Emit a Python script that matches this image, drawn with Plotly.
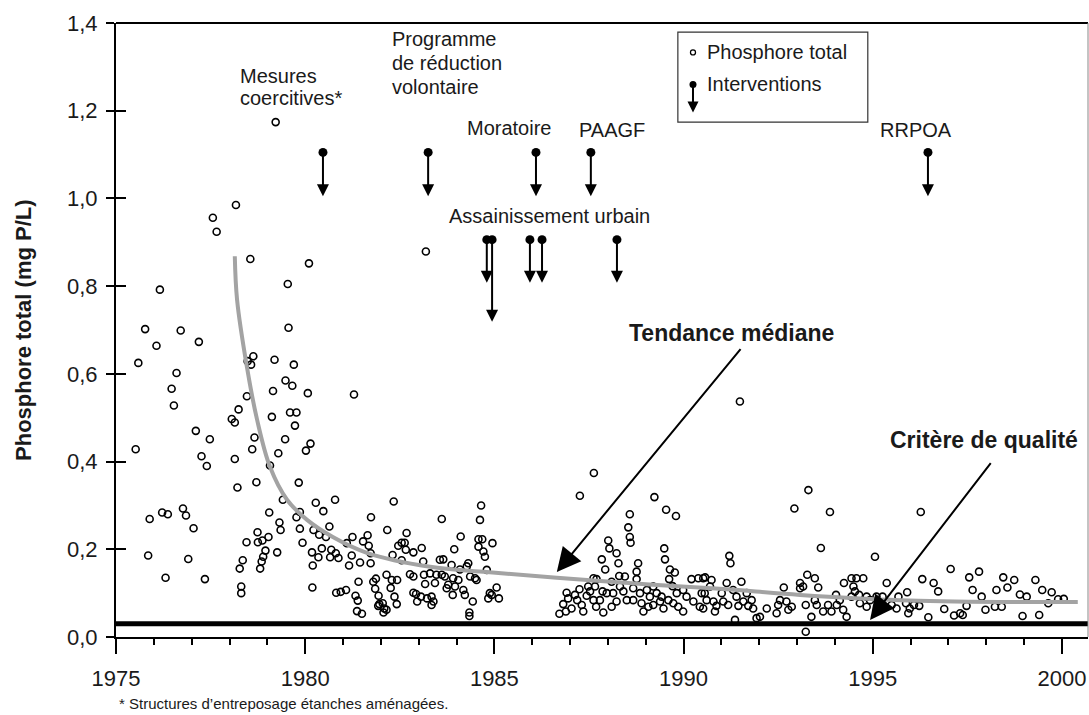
import plotly.graph_objects as go

# ---------------- data ----------------
yr_1 = [1975.77,1976.71,1976.07,1977.19,1975.59,1976.60,1976.47,1976.53,1975.52,1977.11,1977.48,1977.26,1977.40,
        1975.89,1976.22,1976.37,1976.77,1976.85,1977.05,1975.85,1976.91,1976.31,1977.35,1976.16,1977.56,1977.66]
tp_1 = [0.702,0.699,0.664,0.673,0.625,0.602,0.566,0.528,0.428,0.470,0.451,0.412,0.390,
        0.269,0.284,0.280,0.293,0.277,0.248,0.186,0.178,0.135,0.132,0.792,0.956,0.924]

yr_2 = [1979.22,1978.17,1978.55,1980.10,1979.54,1983.19,1979.56,1978.48,1978.63,1978.57,1979.19,1979.70,1979.48,
        1979.66,1979.15,1980.07,1978.46,1978.24,1978.06,1978.14,1979.12,1979.60,1979.77,1979.73,1978.66,1979.47,
        1978.60,1980.14,1980.02,1979.29,1978.14,1979.07,1978.71,1978.21,1979.83,1979.41,1980.28,1980.79,1981.29,
        1982.34,1979.05,1979.86,1979.77,1980.48,1979.32,1979.35,1979.86,1980.64,1980.22,1980.37,1980.55,1978.74,
        1978.75,1978.87,1979.03,1978.45,1978.95,1979.26,1978.89,1978.85,1978.81,1978.35,1978.27,1978.31,1978.31,
        1979.93,1980.18,1980.35,1980.44,1980.69,1980.66,1980.81,1980.88,1980.20,1980.19,1981.10,1981.23,1981.16,
        1981.45,1981.73,1981.25,1981.53,1981.65,1981.68,1981.73,1981.74,1982.17,1981.41,1980.82,1980.94,1981.08,
        1981.33,1981.39,1981.37,1981.50,1981.80,1981.87,1981.85,1981.94,1981.96,1981.93,1982.05,1982.09,1982.07,
        1982.15,1982.15,1982.29,1982.43,1982.26,1982.36,1982.42,1982.31,1982.46,1982.55,1982.63,1982.68,1982.66,
        1982.86,1983.08,1982.55,1982.77,1982.86,1983.14,1983.17,1983.12,1982.86,1982.93,1983.06,1982.96,1983.22,
        1983.30]
tp_2 = [1.174,0.985,0.862,0.852,0.805,0.879,0.705,0.629,0.640,0.621,0.632,0.621,0.585,
        0.573,0.561,0.556,0.549,0.519,0.497,0.489,0.502,0.512,0.512,0.482,0.455,0.451,
        0.428,0.441,0.425,0.419,0.406,0.391,0.353,0.341,0.352,0.313,0.306,0.313,0.553,
        0.309,0.284,0.285,0.273,0.287,0.261,0.244,0.247,0.252,0.244,0.233,0.228,0.239,
        0.216,0.220,0.228,0.216,0.197,0.193,0.183,0.172,0.156,0.175,0.156,0.115,0.100,
        0.215,0.193,0.182,0.202,0.199,0.182,0.191,0.180,0.163,0.113,0.214,0.186,0.163,
        0.170,0.168,0.228,0.218,0.232,0.208,0.191,0.273,0.244,0.126,0.101,0.103,0.107,
        0.094,0.083,0.059,0.053,0.126,0.133,0.110,0.094,0.075,0.071,0.077,0.065,0.056,
        0.062,0.142,0.130,0.130,0.112,0.092,0.075,0.187,0.208,0.215,0.215,0.237,0.199,
        0.193,0.203,0.175,0.143,0.138,0.142,0.121,0.172,0.101,0.098,0.092,0.081,0.088,
        0.145]

yr_3 = [1983.34,1983.39,1983.34,1983.43,1983.47,1983.61,1983.56,1983.65,1983.61,1983.69,1983.78,1983.74,1983.87,
        1983.91,1983.90,1983.96,1983.94,1984.11,1984.09,1984.05,1984.18,1984.22,1984.27,1984.31,1984.36,1984.43,
        1984.34,1984.34,1984.53,1984.49,1984.65,1984.62,1984.58,1984.68,1984.58,1984.71,1984.75,1984.80,1984.95,
        1985.06,1984.88,1984.84,1984.93,1985.12,
        1987.26,1987.63,1986.91,1986.82,1986.72,1986.89,1987.04,1987.13,1987.25,1987.19,1987.35,1987.44,1987.53,
        1987.62,1987.70,1987.66,1987.62,1987.69,1987.84,1987.93,1987.86,1987.88,1988.01,1988.04,1988.23,1988.28,
        1988.30,1988.10,1988.14,1988.23,1988.32,1988.41,1988.50,1988.58,1988.54,1988.58,1988.60,1988.80,1988.76,
        1988.76,1988.67,1988.85,1988.89,1988.94,1989.03,1989.11,1989.23,1989.54,1989.80,1989.49,1989.51,1989.64,
        1989.77,1989.62,1989.71,1989.29,1989.38,1989.20,1989.47,1989.60,1989.82,1989.86,1989.99,1990.08,1990.21,
        1990.39,1990.57,1990.74,1990.26,1990.43,1990.61,1990.83,1990.79,
        1986.95,1987.31,1987.48,1987.79,1987.97,1988.10,1988.45,1988.67,1989.07,1989.20,1989.42,1989.73,1989.99,
        1990.48]
tp_3 = [0.092,0.081,0.073,0.123,0.142,0.269,0.176,0.177,0.142,0.138,0.119,0.111,0.164,
        0.134,0.096,0.115,0.200,0.229,0.154,0.130,0.107,0.096,0.161,0.168,0.138,0.081,
        0.056,0.048,0.130,0.134,0.300,0.267,0.223,0.223,0.206,0.195,0.183,0.153,0.214,
        0.113,0.100,0.088,0.096,0.088,
        0.322,0.374,0.101,0.075,0.053,0.058,0.065,0.096,0.109,0.084,0.058,0.094,0.104,
        0.134,0.132,0.115,0.084,0.069,0.177,0.154,0.104,0.056,0.220,0.202,0.191,0.168,
        0.139,0.126,0.100,0.081,0.115,0.104,0.084,0.280,0.250,0.228,0.215,0.168,0.149,
        0.132,0.111,0.100,0.077,0.058,0.107,0.092,0.319,0.290,0.276,0.202,0.177,0.154,
        0.147,0.132,0.116,0.100,0.081,0.073,0.065,0.084,0.100,0.069,0.058,0.092,0.132,
        0.134,0.136,0.130,0.081,0.069,0.084,0.058,0.081,
        0.088,0.073,0.115,0.084,0.100,0.069,0.138,0.084,0.069,0.115,0.092,0.077,0.107,
        0.100]

yr_4 = [1991.49,1991.21,1991.24,1990.52,1991.14,1991.53,1990.56,1990.87,1990.52,1991.18,1991.31,1991.58,1991.45,
        1991.71,1991.84,1991.36,1991.93,1992.02,1992.46,1992.65,1992.55,1992.72,1992.93,1993.30,1993.87,1993.63,
        1993.08,1993.08,1993.27,1993.47,1993.56,1993.16,1992.86,1993.23,1993.52,1993.38,1993.23,1993.69,1993.82,
        1994.03,1994.05,1994.22,1994.31,1994.24,1994.44,1994.57,1994.75,1994.49,1994.53,1994.44,1994.64,1994.84,
        1994.84,1995.06,1995.37,1995.10,1995.26,1995.50,1995.68,
        1990.70,1991.01,1991.05,1991.40,1991.67,1991.80,1992.20,1992.50,1992.77,1993.47,1993.91,1994.13,1994.66,
        1994.93,1995.63]
tp_4 = [0.537,0.185,0.168,0.134,0.123,0.126,0.100,0.071,0.065,0.073,0.107,0.081,0.071,
        0.071,0.065,0.039,0.043,0.046,0.054,0.113,0.084,0.081,0.293,0.335,0.285,0.203,
        0.123,0.111,0.142,0.134,0.113,0.115,0.069,0.073,0.073,0.046,0.012,0.058,0.073,
        0.096,0.073,0.062,0.046,0.123,0.134,0.134,0.134,0.115,0.104,0.092,0.096,0.092,
        0.069,0.183,0.123,0.092,0.092,0.073,0.092,
        0.115,0.100,0.081,0.092,0.100,0.084,0.065,0.073,0.062,0.084,0.058,0.084,0.077,
        0.084,0.065]

yr_5 = [1997.06,1997.81,1997.55,1998.45,1998.74,1999.30,1996.31,1996.61,1996.73,1997.64,1997.88,1998.27,1998.56,
        1998.89,1999.07,1999.48,1999.73,1999.64,1999.90,2000.05,1996.89,1997.15,1997.31,1997.38,1997.48,1997.98,
        1998.23,1998.41,1998.96,1999.40,1996.47,1995.91,1995.88,1995.98,1995.94,1996.09,1996.23,1996.27]
tp_5 = [0.155,0.149,0.136,0.136,0.130,0.130,0.132,0.123,0.104,0.107,0.092,0.107,0.113,
        0.097,0.092,0.107,0.102,0.077,0.086,0.087,0.064,0.049,0.054,0.050,0.071,0.062,
        0.069,0.069,0.048,0.050,0.045,0.102,0.077,0.065,0.054,0.073,0.071,0.285]

# median trend
trend_yr = [1978.14,1978.20,1978.46,1978.73,1979.07,1979.52,1980.05,1980.73,1981.63,1983.30,1984.80,
            1986.65,1989.19,1990.96,1993.08,1995.72,1998.36,2000.42]
trend_tp = [0.868,0.769,0.616,0.495,0.388,0.313,0.267,0.228,0.192,0.160,0.148,
            0.135,0.119,0.110,0.096,0.084,0.080,0.080]

critere = 0.03

# interventions: year, dot level, arrow tip level
interv_yr = [1980.47,1983.25,1986.10,1987.55,1996.46,1984.80,1984.94,1985.94,1986.26,1988.24]
interv_top = [1.105,1.105,1.105,1.105,1.105,0.906,0.906,0.906,0.906,0.906]
interv_tip = [1.005,1.005,1.005,1.005,1.005,0.808,0.719,0.808,0.808,0.808]

y_ticks = [0.0,0.2,0.4,0.6,0.8,1.0,1.2,1.4]
y_ticktext = ["0,0","0,2","0,4","0,6","0,8","1,0","1,2","1,4"]
x_ticks = [1975,1980,1985,1990,1995,2000]

X0, X1 = 1975, 2000.69
FONT = "Liberation Sans, Arial, sans-serif"
INK = "#1a1a1a"

years = yr_1 + yr_2 + yr_3 + yr_4 + yr_5
tp = tp_1 + tp_2 + tp_3 + tp_4 + tp_5

fig = go.Figure()

# quality criterion line
fig.add_trace(go.Scatter(x=[X0, X1], y=[critere, critere], mode="lines",
                         line=dict(color="black", width=5), hoverinfo="skip", showlegend=False))
# observations
fig.add_trace(go.Scatter(x=years, y=tp, mode="markers",
                         marker=dict(symbol="circle-open", size=7, color="black", line=dict(width=1.6)),
                         showlegend=False))
# trend
fig.add_trace(go.Scatter(x=trend_yr, y=trend_tp, mode="lines", line=dict(color="#a3a3a3", width=4, shape="spline"),
                         showlegend=False))
# intervention dots
fig.add_trace(go.Scatter(x=interv_yr, y=interv_top, mode="markers",
                         marker=dict(symbol="circle", size=9, color="black"), showlegend=False))
# dummy trace on y2 for inner ticks
fig.add_trace(go.Scatter(x=[X0], y=[0], yaxis="y2", mode="markers", marker=dict(opacity=0),
                         hoverinfo="skip", showlegend=False))

anns = []
for xv, yt, yh in zip(interv_yr, interv_top, interv_tip):
    anns.append(dict(x=xv, y=yh, ax=xv, ay=yt, xref="x", yref="y", axref="x", ayref="y",
                     text="", showarrow=True, arrowhead=2, arrowsize=1.2, arrowwidth=2,
                     arrowcolor="black", standoff=0, startstandoff=0))

def txt(x, y, s, size=20, bold=False, anchor="left"):
    anns.append(dict(x=x, y=y, xref="x", yref="y", text=("<b>%s</b>" % s) if bold else s,
                     showarrow=False, xanchor=anchor, yanchor="middle",
                     font=dict(family=FONT, size=size, color=INK)))

txt(1978.22, 1.279, "Mesures")
txt(1978.22, 1.228, "coercitives*")
txt(1982.24, 1.363, "Programme")
txt(1982.24, 1.309, "de réduction")
txt(1982.24, 1.253, "volontaire")
txt(1984.22, 1.160, "Moratoire")
txt(1987.18, 1.155, "PAAGF")
txt(1995.14, 1.155, "RRPOA")
txt(1983.75, 0.961, "Assainissement urbain")
txt(1988.50, 0.694, "Tendance médiane", size=23, bold=True)
txt(1995.40, 0.449, "Critère de qualité", size=23, bold=True)

# big pointer arrows
anns.append(dict(x=1986.65, y=0.148, ax=1991.54, ay=0.660, xref="x", yref="y", axref="x", ayref="y",
                 text="", showarrow=True, arrowhead=2, arrowsize=2.4, arrowwidth=2, arrowcolor="black",
                 standoff=0, startstandoff=0))
anns.append(dict(x=1994.93, y=0.039, ax=1998.15, ay=0.400, xref="x", yref="y", axref="x", ayref="y",
                 text="", showarrow=True, arrowhead=2, arrowsize=2.4, arrowwidth=2, arrowcolor="black",
                 standoff=0, startstandoff=0))

# legend (drawn manually)
fig.add_shape(type="rect", x0=1989.85, x1=1994.87, y0=1.174, y1=1.379, xref="x", yref="y",
              line=dict(color="#333333", width=1.2), fillcolor="rgba(0,0,0,0)", layer="above")
fig.add_trace(go.Scatter(x=[1990.25], y=[1.333], mode="markers",
                         marker=dict(symbol="circle-open", size=5, color="black", line=dict(width=1.3)),
                         showlegend=False, hoverinfo="skip"))
fig.add_trace(go.Scatter(x=[1990.25], y=[1.260], mode="markers",
                         marker=dict(symbol="circle", size=7, color="black"), showlegend=False, hoverinfo="skip"))
anns.append(dict(x=1990.25, y=1.196, ax=1990.25, ay=1.260, xref="x", yref="y", axref="x", ayref="y",
                 text="", showarrow=True, arrowhead=2, arrowsize=1.1, arrowwidth=2, arrowcolor="black",
                 standoff=0, startstandoff=0))
txt(1990.57, 1.333, "Phosphore total")
txt(1990.57, 1.260, "Interventions")

# y title and footnote
anns.append(dict(x=-0.0957, y=0.5, xref="paper", yref="paper", text="<b>Phosphore total (mg P/L)</b>",
                 textangle=-90, showarrow=False, xanchor="center", yanchor="middle",
                 font=dict(family=FONT, size=22, color=INK)))
anns.append(dict(x=0.001, y=-0.108, xref="paper", yref="paper",
                 text="* Structures d’entreposage étanches aménagées.",
                 showarrow=False, xanchor="left", yanchor="middle",
                 font=dict(family=FONT, size=15, color=INK)))

# frame: top and right
fig.add_shape(type="line", x0=0, x1=1, y0=1, y1=1, xref="paper", yref="paper",
              line=dict(color="black", width=2))
fig.add_shape(type="line", x0=1, x1=1, y0=0, y1=1, xref="paper", yref="paper",
              line=dict(color="#888888", width=1))

fig.update_layout(
    width=1089, height=715,
    margin=dict(l=116, r=1, t=23, b=78),
    paper_bgcolor="white", plot_bgcolor="white",
    font=dict(family=FONT, color=INK),
    annotations=anns,
    xaxis=dict(range=[X0, X1], tickvals=x_ticks, ticks="outside", ticklen=15, tickwidth=2,
               tickcolor="black", showline=True, linecolor="black", linewidth=2,
               showgrid=False, zeroline=False, tickfont=dict(size=22, family=FONT, color=INK),
               ticklabelstandoff=6,
               minor=dict(dtick=1, tick0=1975, ticks="outside", ticklen=6, tickwidth=1.5, tickcolor="black")),
    yaxis=dict(range=[0, 1.4], tickvals=y_ticks, ticktext=y_ticktext, ticks="outside", ticklen=8,
               tickwidth=2, tickcolor="black", showline=True, linecolor="black", linewidth=2,
               showgrid=False, zeroline=False, tickfont=dict(size=22, family=FONT, color=INK),
               ticklabelstandoff=4),
    yaxis2=dict(range=[0, 1.4], overlaying="y", side="left", tickvals=[0.2,0.4,0.6,0.8,1.0,1.2],
                ticks="inside", ticklen=10, tickwidth=2, tickcolor="black", showticklabels=False,
                showline=False, showgrid=False, zeroline=False),
    showlegend=False,
)

fig.write_html("out.html")
